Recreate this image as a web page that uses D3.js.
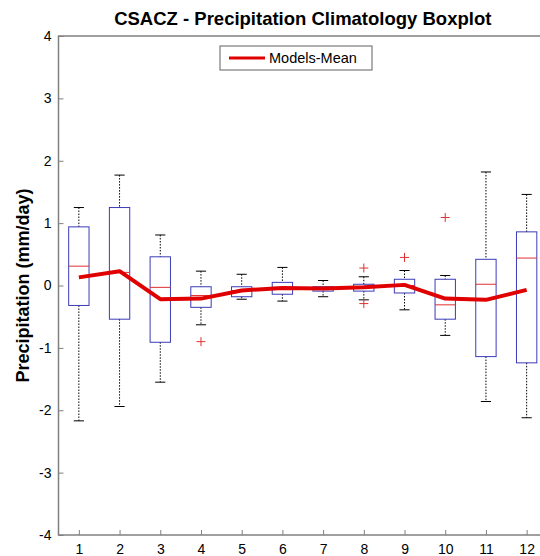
<!DOCTYPE html>
<meta charset="utf-8">
<style>
body { margin: 0; background: #fff; }
svg { display: block; font-family: "Liberation Sans", Arial, sans-serif; }
.whisker { stroke: #000; stroke-width: 1; stroke-dasharray: 1.5,1.5; }
.cap { stroke: #000; stroke-width: 1; }
.box { fill: none; stroke: #3b3bb8; stroke-width: 1; }
.median { stroke: #e03030; stroke-width: 1; }
.outlier { stroke: #e03030; stroke-width: 1; }
.meanline { fill: none; stroke: #e00000; stroke-width: 4; stroke-linejoin: round; }
</style>
<body>
<svg width="540" height="556"></svg>
<script src="https://d3js.org/d3.v7.min.js"></script>
<script>
// monthly values (mm/day)
var months = [1, 2, 3, 4, 5, 6, 7, 8, 9, 10, 11, 12];
var upperWhisker = [1.25, 1.77, 0.81, 0.23, 0.18, 0.29, 0.08, 0.14, 0.24, 0.16, 1.82, 1.46];
var q3 = [0.94, 1.25, 0.46, -0.02, -0.02, 0.05, -0.02, 0.02, 0.10, 0.10, 0.42, 0.86];
var medians = [0.31, 0.21, -0.03, -0.16, -0.08, -0.03, -0.05, -0.03, 0.00, -0.31, 0.02, 0.44];
var q1 = [-0.32, -0.54, -0.91, -0.35, -0.18, -0.14, -0.09, -0.09, -0.12, -0.54, -1.14, -1.24];
var lowerWhisker = [-2.17, -1.94, -1.55, -0.63, -0.22, -0.25, -0.18, -0.23, -0.39, -0.80, -1.86, -2.12];
var modelsMean = [0.13, 0.23, -0.22, -0.21, -0.08, -0.04, -0.05, -0.03, 0.01, -0.21, -0.23, -0.07];
var outlierMonths = [4, 8, 8, 9, 10];
var outlierValues = [-0.90, 0.28, -0.29, 0.45, 1.09];
var yTicks = [-4, -3, -2, -1, 0, 1, 2, 3, 4];

var svg = d3.select("svg"),
    margin = {top: 36, right: -7, bottom: 21, left: 58.5},
    width = 540 - margin.left - margin.right,
    height = 556 - margin.top - margin.bottom,
    g = svg.append("g").attr("transform", "translate(" + margin.left + "," + margin.top + ")");

var x = d3.scaleLinear().domain([0.5, 12.5]).range([0, width]),
    y = d3.scaleLinear().domain([-4, 4]).range([height, 0]);

var boxW = (x(1.5) - x(1)) ;   // box width 0.5 units
var capW = boxW / 2;

var stats = months.map(function(m, i) {
  return {m: m, hi: upperWhisker[i], q3: q3[i], med: medians[i], q1: q1[i], lo: lowerWhisker[i]};
});

function styleAxis(a) {
  a.select(".domain").remove();
  a.selectAll("line").attr("stroke", "#808080");
  a.selectAll("text").attr("font-size", 14).attr("font-family", "Liberation Sans, Arial, sans-serif").attr("fill", "#000");
}

// axes box (matlab style, ticks inside)
g.append("g")
    .attr("transform", "translate(0," + height + ")")
    .call(d3.axisBottom(x).tickValues(months).tickSize(-5).tickPadding(9).tickFormat(String))
    .call(styleAxis);

g.append("g")
    .call(d3.axisLeft(y).tickValues(yTicks).tickSize(-5).tickPadding(7).tickFormat(String))
    .call(styleAxis);

g.append("rect")
    .attr("x", 0).attr("y", 0)
    .attr("width", width).attr("height", height)
    .attr("fill", "none")
    .attr("stroke", "#808080")
    .attr("stroke-width", 1.5);

// boxes
var bx = g.selectAll(".bx").data(stats).enter().append("g").attr("class", "bx");

bx.append("line").attr("class", "whisker")
    .attr("x1", function(d) { return x(d.m); }).attr("x2", function(d) { return x(d.m); })
    .attr("y1", function(d) { return y(d.hi); }).attr("y2", function(d) { return y(d.q3); });
bx.append("line").attr("class", "whisker")
    .attr("x1", function(d) { return x(d.m); }).attr("x2", function(d) { return x(d.m); })
    .attr("y1", function(d) { return y(d.q1); }).attr("y2", function(d) { return y(d.lo); });
bx.append("line").attr("class", "cap")
    .attr("x1", function(d) { return x(d.m) - capW / 2; }).attr("x2", function(d) { return x(d.m) + capW / 2; })
    .attr("y1", function(d) { return y(d.hi); }).attr("y2", function(d) { return y(d.hi); });
bx.append("line").attr("class", "cap")
    .attr("x1", function(d) { return x(d.m) - capW / 2; }).attr("x2", function(d) { return x(d.m) + capW / 2; })
    .attr("y1", function(d) { return y(d.lo); }).attr("y2", function(d) { return y(d.lo); });
bx.append("rect").attr("class", "box")
    .attr("x", function(d) { return x(d.m) - boxW / 2; })
    .attr("width", boxW)
    .attr("y", function(d) { return y(d.q3); })
    .attr("height", function(d) { return y(d.q1) - y(d.q3); });
bx.append("line").attr("class", "median")
    .attr("x1", function(d) { return x(d.m) - boxW / 2; }).attr("x2", function(d) { return x(d.m) + boxW / 2; })
    .attr("y1", function(d) { return y(d.med); }).attr("y2", function(d) { return y(d.med); });

// outliers as + markers
var out = g.selectAll(".out").data(outlierMonths.map(function(m, i) { return {m: m, v: outlierValues[i]}; }))
  .enter().append("g").attr("class", "out")
    .attr("transform", function(d) { return "translate(" + x(d.m) + "," + y(d.v) + ")"; });
out.append("line").attr("class", "outlier").attr("x1", -4.5).attr("x2", 4.5);
out.append("line").attr("class", "outlier").attr("y1", -4.5).attr("y2", 4.5);

// models mean
var line = d3.line()
    .x(function(d, i) { return x(months[i]); })
    .y(function(d) { return y(d); });

g.append("path")
    .datum(modelsMean)
    .attr("class", "meanline")
    .attr("d", line);

// legend
var lg = svg.append("g").attr("transform", "translate(220,46)");
lg.append("rect").attr("width", 152).attr("height", 24)
    .attr("fill", "#fff").attr("stroke", "#606060").attr("stroke-width", 1);
lg.append("line").attr("x1", 9).attr("x2", 45).attr("y1", 12).attr("y2", 12)
    .attr("stroke", "#e00000").attr("stroke-width", 3);
lg.append("text").attr("x", 49).attr("y", 12).attr("dy", "0.35em")
    .attr("font-size", 14.5).text("Models-Mean");

// title and y label
svg.append("text")
    .attr("x", margin.left + x(6.5))
    .attr("y", 25)
    .attr("text-anchor", "middle")
    .attr("font-weight", "bold")
    .attr("font-size", 18.5)
    .text("CSACZ - Precipitation Climatology Boxplot");

svg.append("text")
    .attr("transform", "translate(23," + (margin.top + y(0)) + ") rotate(-90)")
    .attr("text-anchor", "middle")
    .attr("dy", "0.35em")
    .attr("font-weight", "bold")
    .attr("font-size", 18)
    .text("Precipitation (mm/day)");
</script>
</body>
